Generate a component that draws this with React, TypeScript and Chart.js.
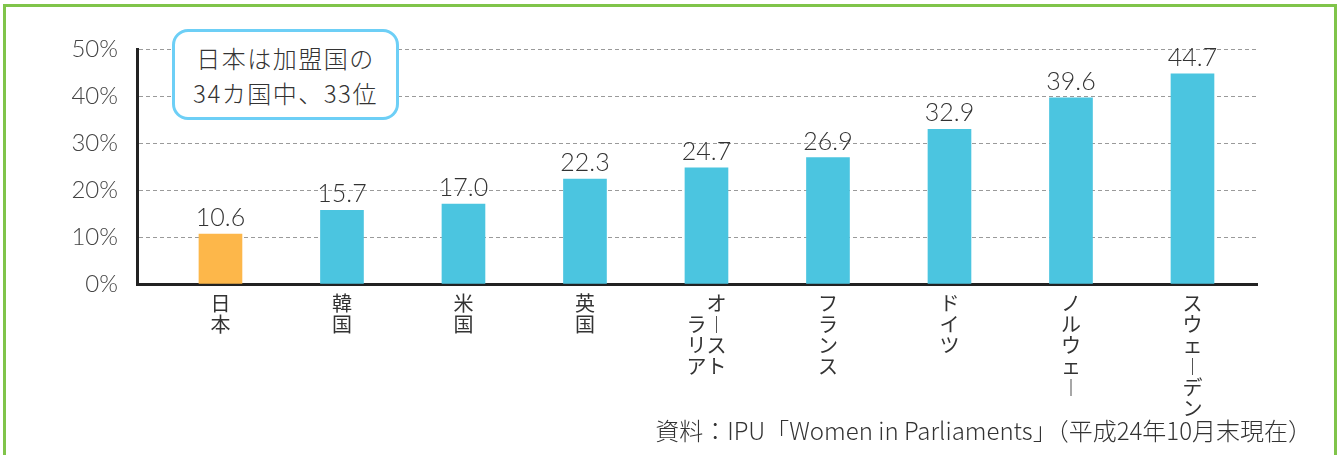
import React, { useEffect, useRef } from "react";
import { Chart, registerables } from "chart.js";

Chart.register(...registerables);

// ---- data ----
const categories = ["日本", "韓国", "米国", "英国", "オーストラリア", "フランス", "ドイツ", "ノルウェー", "スウェーデン"];
// vertical (tategaki) tick labels, one line per row
const tickLabels = [
  ["日", "本"],
  ["韓", "国"],
  ["米", "国"],
  ["英", "国"],
  ["　オ", "ラ︱", "リス", "アト"],
  ["フ", "ラ", "ン", "ス"],
  ["ド", "イ", "ツ"],
  ["ノ", "ル", "ウ", "ェ", "︱"],
  ["ス", "ウ", "ェ", "︱", "デ", "ン"],
];
const values = [10.6, 15.7, 17.0, 22.3, 24.7, 26.9, 32.9, 39.6, 44.7];
const yTicks = [0, 10, 20, 30, 40, 50];
const calloutLines = ["日本は加盟国の", "34カ国中、33位"];
const sourceText = "資料：IPU「Women in Parliaments」（平成24年10月末現在）";

const JP = "'Noto Sans CJK JP', 'Noto Sans', sans-serif";
const NUM = "Lato, 'Noto Sans CJK JP', sans-serif";
const ORANGE = "#FDB74A";
const BLUE = "#4BC5E0";
const barColors = categories.map((_, i) => (i === 0 ? ORANGE : BLUE));

const valueLabelPlugin = {
  id: "valueLabels",
  afterDatasetsDraw(chart: any) {
    const ctx = chart.ctx;
    const meta = chart.getDatasetMeta(0);
    ctx.save();
    ctx.font = `300 25px ${NUM}`;
    ctx.fillStyle = "#333";
    ctx.textAlign = "center";
    ctx.textBaseline = "alphabetic";
    meta.data.forEach((el: any, i: number) => {
      ctx.fillText(values[i].toFixed(1), el.x, el.y - 8);
    });
    ctx.restore();
  },
};

export default function App() {
  const canvasRef = useRef<HTMLCanvasElement | null>(null);

  useEffect(() => {
    if (!canvasRef.current) return;
    const chart = new Chart(canvasRef.current, {
      type: "bar",
      data: {
        datasets: [
          {
            data: values.map((v, i) => ({ x: i, y: v })),
            backgroundColor: barColors,
            borderWidth: 0,
            barThickness: 43,
          },
        ],
      },
      options: {
        animation: false,
        responsive: false,
        layout: { padding: { left: 0, right: 84, top: 49, bottom: 0 } },
        plugins: { legend: { display: false }, tooltip: { enabled: false } },
        scales: {
          x: {
            type: "linear",
            min: -0.687,
            max: 8.531,
            offset: false,
            z: 1,
            grid: { display: false, drawTicks: false },
            border: { display: true, color: "#222", width: 3 },
            afterBuildTicks: (axis: any) => {
              axis.ticks = categories.map((_, i) => ({ value: i }));
            },
            afterFit: (axis: any) => {
              axis.height = 171;
            },
            ticks: {
              autoSkip: false,
              maxRotation: 0,
              minRotation: 0,
              padding: 9,
              color: "#333",
              font: { family: JP, size: 20, lineHeight: 1.05 },
              callback: (v: any) => tickLabels[v] ?? "",
            },
          },
          y: {
            min: 0,
            max: 50,
            afterBuildTicks: (axis: any) => {
              axis.ticks = yTicks.map((v) => ({ value: v }));
            },
            afterFit: (axis: any) => {
              axis.width = 137;
            },
            grid: { color: "#9a9a9a", lineWidth: 1, drawTicks: false },
            border: { display: true, color: "#222", width: 3, dash: [4, 3] },
            ticks: {
              padding: 19,
              color: "#444",
              font: { family: NUM, size: 24, weight: "300" },
              callback: (v: any) => `${v}%`,
            },
          },
        },
      } as any,
      plugins: [valueLabelPlugin],
    });
    return () => chart.destroy();
  }, []);

  return (
    <div
      style={{
        position: "fixed",
        left: 0,
        top: 0,
        width: 1341,
        height: 455,
        overflow: "hidden",
        background: "#fff",
        fontFamily: JP,
      }}
    >
      <div
        style={{
          position: "absolute",
          left: 3,
          top: 4,
          width: 1334,
          height: 520,
          border: "3px solid #80C44A",
          boxSizing: "border-box",
        }}
      />
      <canvas
        ref={canvasRef}
        width={1341}
        height={455}
        style={{ position: "absolute", left: 0, top: 0, width: 1341, height: 455 }}
      />
      <div
        style={{
          position: "absolute",
          left: 172,
          top: 29,
          width: 227,
          height: 91,
          boxSizing: "border-box",
          border: "3px solid #6DCFF6",
          borderRadius: 16,
          background: "#fff",
          paddingTop: 8,
          textAlign: "center",
          color: "#333",
          fontSize: 24,
          fontWeight: 300,
          lineHeight: "35px",
          letterSpacing: 1.5,
          whiteSpace: "nowrap",
        }}
      >
        {calloutLines.map((l) => (
          <div key={l}>{l}</div>
        ))}
      </div>
      <div
        style={{
          position: "absolute",
          right: 29,
          top: 414,
          color: "#333",
          fontSize: 24,
          fontWeight: 300,
          lineHeight: "32px",
          whiteSpace: "nowrap",
        }}
      >
        {sourceText}
      </div>
    </div>
  );
}
